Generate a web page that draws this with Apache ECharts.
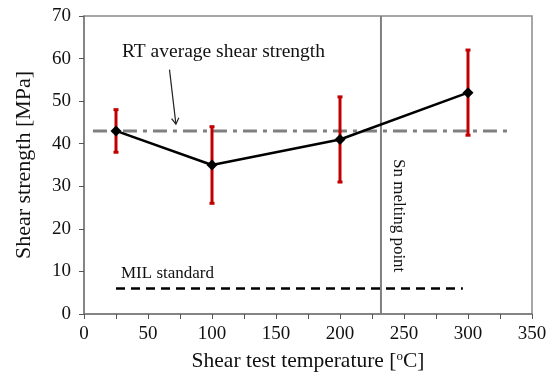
<!DOCTYPE html>
<html><head><meta charset="utf-8">
<script src="https://cdn.jsdelivr.net/npm/echarts@6/dist/echarts.min.js"></script>
<style>html,body{margin:0;padding:0;background:#fff}#c{width:560px;height:377px}</style>
</head><body><div id="c"></div>
<script>
const temps = [25, 100, 200, 300];
const strength = [43, 35, 41, 52];
const errLow = [38, 26, 31, 42];
const errHigh = [48, 44, 51, 62];
const rtAvg = [[7, 43], [333, 43]];
const milStd = [[25, 6], [296, 6]];
const meltPoint = [[232, 0], [232, 70]];
const arrowPts = [[66.8, 57.4], [71.8, 44.6]];

const F = '"Liberation Serif", "Times New Roman", serif';
const chart = echarts.init(document.getElementById('c'));
chart.setOption({
  animation: false,
  grid: {left: 84, right: 28, top: 16, bottom: 61, show: true, borderColor: '#8a8a8a', borderWidth: 1.5},
  xAxis: {
    type: 'value', min: 0, max: 350, interval: 50,
    axisLine: {lineStyle: {color: '#7a7a7a', width: 1.5}},
    axisTick: {length: 5, lineStyle: {color: '#555'}},
    minorTick: {show: true, splitNumber: 2, length: 5, lineStyle: {color: '#555'}},
    splitLine: {show: false},
    axisLabel: {color: '#111', fontFamily: F, fontSize: 19, margin: 11},
    name: 'Shear test temperature [{s|o}C]', nameLocation: 'middle', nameGap: 36,
    nameTextStyle: {color: '#111', fontFamily: F, fontSize: 21.5, rich: {s: {fontSize: 13, verticalAlign: 'top', padding: [0,0,9,0], fontFamily: F, color: '#111'}}}
  },
  yAxis: {
    type: 'value', min: 0, max: 70, interval: 10,
    axisLine: {show: true, lineStyle: {color: '#7a7a7a', width: 1.5}},
    axisTick: {show: true, length: 5, lineStyle: {color: '#555'}},
    splitLine: {show: false},
    axisLabel: {color: '#111', fontFamily: F, fontSize: 19, margin: 13},
    name: 'Shear strength [MPa]', nameLocation: 'middle', nameGap: 49,
    nameTextStyle: {color: '#111', fontFamily: F, fontSize: 22}
  },
  series: [
    {type: 'line', data: meltPoint, symbol: 'none', lineStyle: {color: '#808080', width: 2}, z: 1},
    {type: 'line', data: rtAvg, symbol: 'none', lineStyle: {color: '#808080', width: 3, type: [14, 6, 4, 6]}, z: 2},
    {type: 'line', data: milStd, symbol: 'none', lineStyle: {color: '#000', width: 2.5, type: [9, 6]}, z: 2},
    {type: 'custom', z: 3,
      data: temps.map((t, i) => [t, errLow[i], errHigh[i]]),
      renderItem: function (params, api) {
        const lo = api.coord([api.value(0), api.value(1)]);
        const hi = api.coord([api.value(0), api.value(2)]);
        const c = 2.5;
        const st = {stroke: '#c00000', lineWidth: 3};
        return {type: 'group', children: [
          {type: 'line', shape: {x1: lo[0], y1: lo[1], x2: hi[0], y2: hi[1]}, style: st},
          {type: 'line', shape: {x1: lo[0]-c, y1: lo[1], x2: lo[0]+c, y2: lo[1]}, style: st},
          {type: 'line', shape: {x1: hi[0]-c, y1: hi[1], x2: hi[0]+c, y2: hi[1]}, style: st}
        ]};
      }
    },
    {type: 'line', z: 5, data: temps.map((t, i) => [t, strength[i]]), symbol: 'diamond', symbolSize: 11,
      itemStyle: {color: '#000'}, lineStyle: {color: '#000', width: 2.5}},
    {type: 'custom', z: 4, data: [arrowPts[0].concat(arrowPts[1])],
      renderItem: function (params, api) {
        const a = api.coord([api.value(0), api.value(1)]);
        const b = api.coord([api.value(2), api.value(3)]);
        const ang = Math.atan2(b[1] - a[1], b[0] - a[0]);
        const L = 7, w = 0.55;
        const p1 = [b[0] - L * Math.cos(ang - w), b[1] - L * Math.sin(ang - w)];
        const p2 = [b[0] - L * Math.cos(ang + w), b[1] - L * Math.sin(ang + w)];
        const st = {stroke: '#222', lineWidth: 1.2, fill: null};
        return {type: 'group', children: [
          {type: 'line', shape: {x1: a[0], y1: a[1], x2: b[0], y2: b[1]}, style: st},
          {type: 'polyline', shape: {points: [p1, b, p2]}, style: st}
        ]};
      }
    }
  ],
  graphic: [
    {type: 'text', left: 122, top: 42, style: {text: 'RT average shear strength', font: '19.5px ' + F, fill: '#111'}},
    {type: 'text', left: 121, top: 265, style: {text: 'MIL standard', font: '17px ' + F, fill: '#111'}},
    {type: 'text', x: 407, y: 159, rotation: -Math.PI / 2, style: {text: 'Sn melting point', font: '17px ' + F, fill: '#111'}}
  ]
});
</script></body></html>
